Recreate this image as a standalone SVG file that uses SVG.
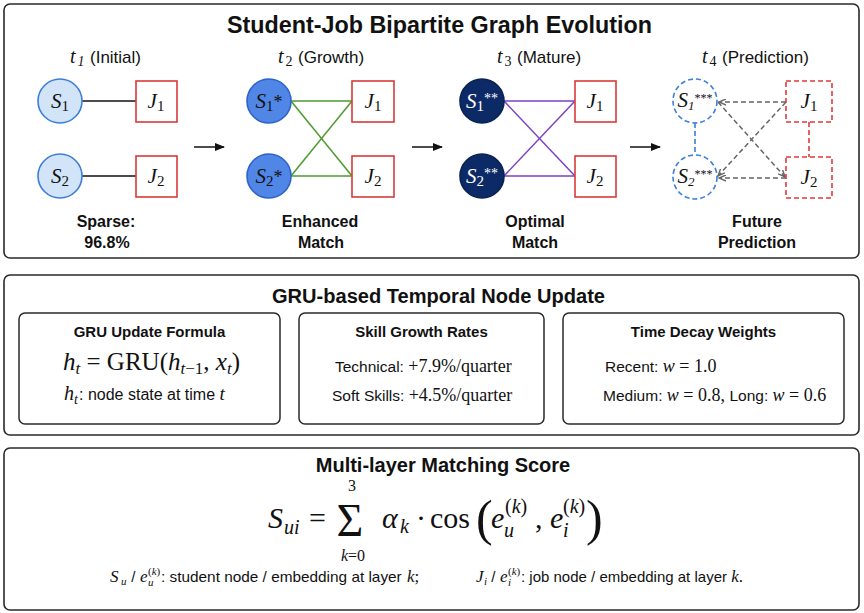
<svg xmlns="http://www.w3.org/2000/svg" width="864" height="613" viewBox="0 0 864 613">
<defs>
<style>
.box{fill:#fff;stroke:#2a2a2a;stroke-width:1.6}
.ibox{fill:#fff;stroke:#2a2a2a;stroke-width:1.5}
.sans{font-family:"Liberation Sans",Arial,sans-serif;fill:#111}
.serif{font-family:"Liberation Serif","Times New Roman",serif;fill:#111}
.it{font-style:italic}
.b{font-weight:bold}
.c1{fill:#d2e4f8;stroke:#3d7fd9;stroke-width:1.6}
.c2{fill:#5087e6;stroke:#2e63c9;stroke-width:1.6}
.c3{fill:#0c2a66;stroke:#0a2250;stroke-width:1.6}
.c4{fill:#fff;stroke:#3d7fd9;stroke-width:1.6;stroke-dasharray:5 3}
.j{fill:#fff;stroke:#d93a3a;stroke-width:1.6}
.j4{fill:#fff;stroke:#e03a3a;stroke-width:1.6;stroke-dasharray:5 3}
.blk{stroke:#111;stroke-width:1.5;fill:none}
.grn{stroke:#4e9a2e;stroke-width:1.5;fill:none}
.pur{stroke:#7b3fc4;stroke-width:1.5;fill:none}
.gry{stroke:#666;stroke-width:1.5;fill:none;stroke-dasharray:5 3}
.bdash{stroke:#3d7fd9;stroke-width:1.6;stroke-dasharray:5 3;fill:none}
.rdash{stroke:#e03a3a;stroke-width:1.6;stroke-dasharray:5 3;fill:none}
.nl{font-family:"Liberation Serif","Times New Roman",serif;font-size:21px;text-anchor:middle;fill:#111}
</style>
<marker id="ah" markerWidth="10" markerHeight="8" refX="9" refY="4" orient="auto" markerUnits="userSpaceOnUse">
<path d="M0,0 L10,4 L0,8 Z" fill="#111"/>
</marker>
<marker id="ag" markerWidth="8" markerHeight="7" refX="7" refY="3.5" orient="auto" markerUnits="userSpaceOnUse">
<path d="M0,0.5 L7,3.5 L0,6.5" fill="none" stroke="#666" stroke-width="1.4"/>
</marker>
</defs>
<rect x="0" y="0" width="864" height="613" fill="#fff"/>

<!-- Panel 1 -->
<g id="panel-evolution">
<rect class="box" x="4" y="4" width="855" height="254" rx="6"/>
<text class="sans b" x="227" y="33" font-size="23" textLength="425" lengthAdjust="spacingAndGlyphs">Student-Job Bipartite Graph Evolution</text>
<text class="sans" y="63" font-size="17"><tspan class="serif it" x="70" font-size="20">t</tspan><tspan class="serif it" x="77.5" dy="3" font-size="14">1</tspan><tspan x="90" dy="-3">(Initial)</tspan></text>
<text class="sans" y="63" font-size="17"><tspan class="serif it" x="278" font-size="20">t</tspan><tspan class="serif" x="285.5" dy="3" font-size="14">2</tspan><tspan x="298" dy="-3">(Growth)</tspan></text>
<text class="sans" y="63" font-size="17"><tspan class="serif it" x="497" font-size="20">t</tspan><tspan class="serif" x="504.5" dy="3" font-size="14">3</tspan><tspan x="517" dy="-3">(Mature)</tspan></text>
<text class="sans" y="63" font-size="17"><tspan class="serif it" x="702" font-size="20">t</tspan><tspan class="serif" x="709.5" dy="3" font-size="14">4</tspan><tspan x="722" dy="-3">(Prediction)</tspan></text>
<text class="sans b" x="106" y="227" font-size="16" text-anchor="middle">Sparse:</text>
<text class="sans b" x="107" y="248" font-size="16" text-anchor="middle">96.8%</text>
<text class="sans b" x="320" y="227" font-size="16" text-anchor="middle">Enhanced</text>
<text class="sans b" x="321" y="248" font-size="16" text-anchor="middle">Match</text>
<text class="sans b" x="535" y="227" font-size="16" text-anchor="middle">Optimal</text>
<text class="sans b" x="535" y="248" font-size="16" text-anchor="middle">Match</text>
<text class="sans b" x="757" y="227" font-size="16" text-anchor="middle">Future</text>
<text class="sans b" x="757" y="248" font-size="16" text-anchor="middle">Prediction</text>
</g>

<g id="connectors">
<line class="blk" x1="82" y1="101" x2="136" y2="101"/>
<line class="blk" x1="82" y1="176" x2="136" y2="176"/>
<line class="grn" x1="291" y1="101" x2="352" y2="101"/>
<line class="grn" x1="291" y1="101" x2="352" y2="176"/>
<line class="grn" x1="291" y1="176" x2="352" y2="101"/>
<line class="grn" x1="291" y1="176" x2="352" y2="176"/>
<line class="pur" x1="504" y1="101" x2="575" y2="101"/>
<line class="pur" x1="504" y1="101" x2="575" y2="176"/>
<line class="pur" x1="504" y1="176" x2="575" y2="101"/>
<line class="pur" x1="504" y1="176" x2="575" y2="176"/>
<line class="gry" x1="786" y1="102" x2="719" y2="102" marker-end="url(#ag)"/>
<line class="gry" x1="786" y1="102" x2="718" y2="176" marker-end="url(#ag)"/>
<line class="gry" x1="718" y1="102" x2="785" y2="177" marker-end="url(#ag)"/>
<line class="gry" x1="786" y1="178" x2="719" y2="178" marker-end="url(#ag)"/>
<line class="bdash" x1="695" y1="123" x2="695" y2="155"/>
<line class="rdash" x1="809" y1="122" x2="809" y2="157"/>
<line class="blk" x1="194" y1="147" x2="224" y2="147" marker-end="url(#ah)"/>
<line class="blk" x1="412" y1="147" x2="442" y2="147" marker-end="url(#ah)"/>
<line class="blk" x1="630" y1="147" x2="660" y2="147" marker-end="url(#ah)"/>
</g>

<g id="node-t1-s1"><circle class="c1" cx="60" cy="101" r="22"/><text class="nl" x="60" y="108"><tspan class="it">S</tspan><tspan font-size="15" dy="3">1</tspan></text></g>
<g id="node-t1-s2"><circle class="c1" cx="60" cy="176" r="22"/><text class="nl" x="60" y="183"><tspan class="it">S</tspan><tspan font-size="15" dy="3">2</tspan></text></g>
<g id="node-t1-j1"><rect class="j" x="136" y="81" width="41" height="41"/><text class="nl" x="156" y="108"><tspan class="it">J</tspan><tspan font-size="15" dy="3">1</tspan></text></g>
<g id="node-t1-j2"><rect class="j" x="136" y="156" width="41" height="41"/><text class="nl" x="156" y="183"><tspan class="it">J</tspan><tspan font-size="15" dy="3">2</tspan></text></g>

<g id="node-t2-s1"><circle class="c2" cx="269" cy="101" r="22"/><text class="nl" x="269" y="108"><tspan class="it">S</tspan><tspan font-size="15" dy="3">1</tspan><tspan font-size="18" dy="-3">*</tspan></text></g>
<g id="node-t2-s2"><circle class="c2" cx="269" cy="176" r="22"/><text class="nl" x="269" y="183"><tspan class="it">S</tspan><tspan font-size="15" dy="3">2</tspan><tspan font-size="18" dy="-3">*</tspan></text></g>
<g id="node-t2-j1"><rect class="j" x="352" y="81" width="42" height="41"/><text class="nl" x="373" y="108"><tspan class="it">J</tspan><tspan font-size="15" dy="3">1</tspan></text></g>
<g id="node-t2-j2"><rect class="j" x="352" y="156" width="42" height="41"/><text class="nl" x="373" y="183"><tspan class="it">J</tspan><tspan font-size="15" dy="3">2</tspan></text></g>

<g id="node-t3-s1"><circle class="c3" cx="482" cy="101" r="22"/><text class="nl" x="482" y="108" style="fill:#fff"><tspan class="it">S</tspan><tspan font-size="15" dy="3">1</tspan><tspan font-size="14" dy="-8">**</tspan></text></g>
<g id="node-t3-s2"><circle class="c3" cx="482" cy="176" r="22"/><text class="nl" x="482" y="183" style="fill:#fff"><tspan class="it">S</tspan><tspan font-size="15" dy="3">2</tspan><tspan font-size="14" dy="-8">**</tspan></text></g>
<g id="node-t3-j1"><rect class="j" x="575" y="81" width="41" height="41"/><text class="nl" x="595" y="108"><tspan class="it">J</tspan><tspan font-size="15" dy="3">1</tspan></text></g>
<g id="node-t3-j2"><rect class="j" x="575" y="156" width="41" height="41"/><text class="nl" x="595" y="183"><tspan class="it">J</tspan><tspan font-size="15" dy="3">2</tspan></text></g>

<g id="node-t4-s1"><circle class="c4" cx="695" cy="101" r="22"/><text class="nl" x="695" y="107" font-size="19"><tspan class="it">S</tspan><tspan class="it" font-size="13" dy="3">1</tspan><tspan font-size="12" dy="-8">***</tspan></text></g>
<g id="node-t4-s2"><circle class="c4" cx="695" cy="177" r="22"/><text class="nl" x="695" y="183" font-size="19"><tspan class="it">S</tspan><tspan class="it" font-size="13" dy="3">2</tspan><tspan font-size="12" dy="-8">***</tspan></text></g>
<g id="node-t4-j1"><rect class="j4" x="786" y="81" width="46" height="41"/><text class="nl" x="809" y="108"><tspan class="it">J</tspan><tspan font-size="15" dy="3">1</tspan></text></g>
<g id="node-t4-j2"><rect class="j4" x="786" y="157" width="46" height="41"/><text class="nl" x="809" y="184"><tspan class="it">J</tspan><tspan font-size="15" dy="3">2</tspan></text></g>

<!-- Panel 2 -->
<g id="panel-gru">
<rect class="box" x="4" y="275" width="855" height="160" rx="6"/>
<text class="sans b" x="272" y="303" font-size="20" textLength="333" lengthAdjust="spacingAndGlyphs">GRU-based Temporal Node Update</text>
</g>
<g id="box-gru-formula">
<rect class="ibox" x="19" y="313" width="261" height="111" rx="6"/>
<text class="sans b" x="149.5" y="337" font-size="15" text-anchor="middle">GRU Update Formula</text>
<text class="serif" x="63" y="370" font-size="25" textLength="177" lengthAdjust="spacingAndGlyphs"><tspan class="it">h</tspan><tspan class="it" font-size="17" dy="4">t</tspan><tspan dy="-4"> = GRU(</tspan><tspan class="it">h</tspan><tspan class="it" font-size="17" dy="4">t</tspan><tspan font-size="17">−1</tspan><tspan dy="-4">, </tspan><tspan class="it">x</tspan><tspan class="it" font-size="17" dy="4">t</tspan><tspan dy="-4">)</tspan></text>
<text class="sans" y="400" font-size="16"><tspan class="serif it" x="64" font-size="20">h</tspan><tspan class="serif it" x="74" dy="4" font-size="14">t</tspan><tspan x="79" dy="-4">: node state at time </tspan><tspan class="serif it" font-size="19">t</tspan></text>
</g>
<g id="box-skill-growth">
<rect class="ibox" x="299" y="313" width="245" height="111" rx="6"/>
<text class="sans b" x="421.5" y="337" font-size="15" text-anchor="middle">Skill Growth Rates</text>
<text class="sans" x="335" y="372" font-size="15.5">Technical: <tspan class="serif" font-size="18">+7.9%/quarter</tspan></text>
<text class="sans" x="332" y="401" font-size="15.5">Soft Skills: <tspan class="serif" font-size="18">+4.5%/quarter</tspan></text>
</g>
<g id="box-time-decay">
<rect class="ibox" x="563" y="313" width="281" height="111" rx="6"/>
<text class="sans b" x="703.5" y="337" font-size="15" text-anchor="middle">Time Decay Weights</text>
<text class="sans" x="605" y="372" font-size="15.5">Recent: <tspan class="serif" font-size="18"><tspan class="it">w</tspan> = 1.0</tspan></text>
<text class="sans" x="603" y="401" font-size="15.5">Medium: <tspan class="serif" font-size="18"><tspan class="it">w</tspan> = 0.8, </tspan>Long: <tspan class="serif" font-size="18"><tspan class="it">w</tspan> = 0.6</tspan></text>
</g>

<!-- Panel 3 -->
<g id="panel-matching">
<rect class="box" x="4" y="448" width="855" height="162" rx="6"/>
<text class="sans b" x="443" y="472" font-size="20" text-anchor="middle">Multi-layer Matching Score</text>
<g id="formula-score">
<text class="serif" y="528" font-size="30"><tspan class="it" x="268">S</tspan><tspan class="it" x="284" y="534" font-size="20">ui</tspan><tspan x="309" y="528">=</tspan><tspan x="382" class="it">α</tspan><tspan x="400" y="533" font-size="20" class="it">k</tspan><tspan x="416" y="528">·</tspan><tspan x="430">cos</tspan><tspan x="491" class="it">e</tspan><tspan x="505" y="513" font-size="20">(<tspan class="it">k</tspan>)</tspan><tspan x="504" y="537" font-size="20" class="it">u</tspan><tspan x="535" y="528">,</tspan><tspan x="550" class="it">e</tspan><tspan x="563" y="513" font-size="20">(<tspan class="it">k</tspan>)</tspan><tspan x="563" y="537" font-size="20" class="it">i</tspan></text>
<text class="serif" x="350" y="536" font-size="46" text-anchor="middle">Σ</text>
<text class="serif" x="352" y="491" font-size="16" text-anchor="middle">3</text>
<text class="serif" x="353" y="561" font-size="16" text-anchor="middle"><tspan class="it">k</tspan>=0</text>
<text class="serif" x="476" y="535" font-size="50">(</text>
<text class="serif" x="586" y="535" font-size="50">)</text>
</g>
<text class="sans" y="582" font-size="15"><tspan class="serif it" x="110" font-size="17">S</tspan><tspan class="serif it" x="121" y="585" font-size="11">u</tspan><tspan x="127" y="582"> / </tspan><tspan class="serif it" x="140" font-size="17">e</tspan><tspan class="serif" x="148" y="575" font-size="11">(<tspan class="it">k</tspan>)</tspan><tspan class="serif it" x="148" y="586" font-size="11">u</tspan><tspan x="161" y="582" textLength="245" lengthAdjust="spacingAndGlyphs">: student node / embedding at layer </tspan><tspan class="serif it" x="407" font-size="17">k</tspan><tspan class="serif" font-size="17">;</tspan><tspan class="serif it" x="476" font-size="17">J</tspan><tspan class="serif it" x="484" y="585" font-size="11">i</tspan><tspan x="487" y="582"> / </tspan><tspan class="serif it" x="500" font-size="17">e</tspan><tspan class="serif" x="508" y="575" font-size="11">(<tspan class="it">k</tspan>)</tspan><tspan class="serif it" x="508" y="586" font-size="11">i</tspan><tspan x="521" y="582">: job node / embedding at layer </tspan><tspan class="serif it" font-size="17">k</tspan><tspan class="serif" font-size="17">.</tspan></text>
</g>
</svg>
